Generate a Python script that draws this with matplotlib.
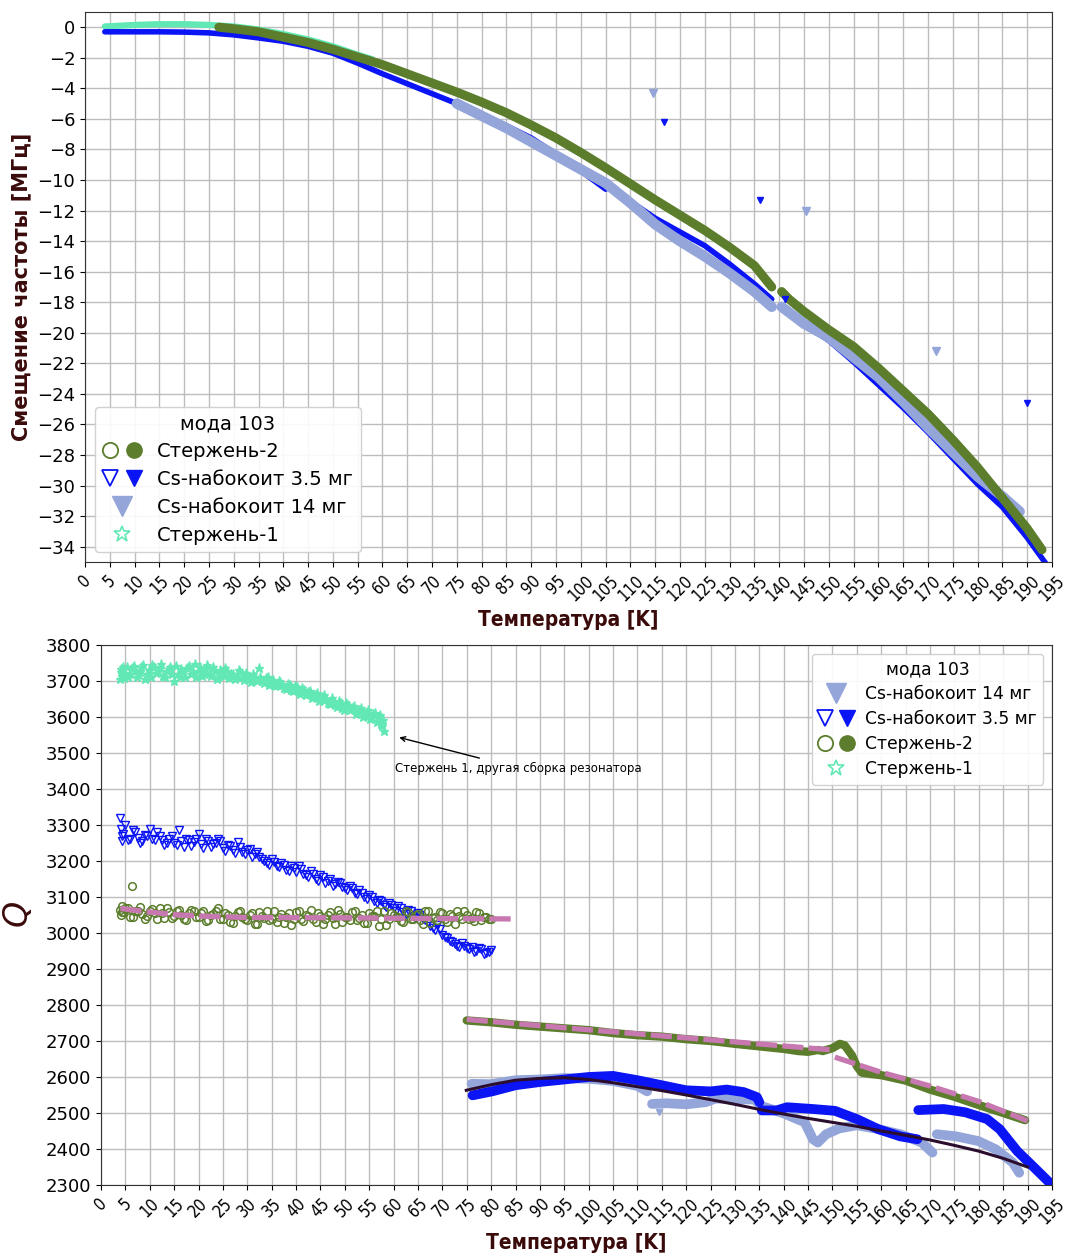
import numpy as np
import matplotlib
matplotlib.use("Agg")
import matplotlib.pyplot as plt
from matplotlib.lines import Line2D
from matplotlib.legend_handler import HandlerTuple

# ---- цвета серий ----
C_ROD2 = '#5b7d2c'
C_CS35 = '#0a14f5'
C_CS14 = '#94a5da'
C_ROD1 = '#62e8b4'
C_FIT_PINK = '#c878b0'
C_FIT_DARK = '#2b0d2e'
C_LABEL = '#3b0b0b'

# ---- верхний график: смещение частоты, МГц ----
rod1_df_t = [4, 10, 15, 20, 25, 30, 35, 40, 45, 50, 55, 58]
rod1_df = [0.05, 0.15, 0.2, 0.2, 0.15, 0.05, -0.15, -0.45, -0.8, -1.25, -1.8, -2.1]

rod2_df_t_a = [27, 30, 35, 40, 45, 50, 55, 60, 65, 70, 75, 80, 85, 90, 95,
               100, 105, 110, 115, 120, 125, 130, 135, 138.5]
rod2_df_a = [0.0, -0.1, -0.3, -0.65, -1.0, -1.45, -1.95, -2.45, -3.05, -3.65,
             -4.25, -4.9, -5.6, -6.4, -7.25, -8.2, -9.2, -10.25, -11.3, -12.3,
             -13.3, -14.4, -15.6, -17.0]
rod2_df_t_b = [140.5, 142, 145, 150, 155, 160, 165, 170, 175, 180, 185, 190, 193]
rod2_df_b = [-17.3, -17.8, -18.6, -19.8, -20.9, -22.3, -23.8, -25.3, -27.0,
             -28.8, -30.8, -32.8, -34.2]

cs35_df_t_a = [4, 10, 15, 20, 25, 30, 35, 40, 45, 50, 55, 60, 65, 70, 75, 80,
               85, 90, 95, 100, 105, 106, 110, 115, 120, 125, 130, 135, 138.5]
cs35_df_a = [-0.3, -0.3, -0.3, -0.32, -0.37, -0.5, -0.7, -0.92, -1.25, -1.7,
             -2.35, -3.05, -3.7, -4.35, -5.0, -5.7, -6.45, -7.25, -8.3, -9.4,
             -10.6, -10.3, -11.4, -12.5, -13.4, -14.3, -15.5, -16.8, -17.8]
cs35_df_t_b = [141, 145, 150, 155, 160, 165, 170, 175, 180, 185, 190, 194]
cs35_df_b = [-18.4, -19.4, -20.5, -21.9, -23.4, -24.9, -26.5, -28.2, -29.9,
             -31.4, -33.4, -35.2]
cs35_df_out_t = [116.7, 136.1, 141.1, 189.9]
cs35_df_out = [-6.2, -11.3, -17.8, -24.6]

cs14_df_t_a = [75, 80, 85, 90, 95, 100, 105, 110, 115, 120, 125, 130, 135, 138.5]
cs14_df_a = [-5.0, -5.8, -6.6, -7.5, -8.4, -9.3, -10.2, -11.5, -12.9, -14.0,
             -15.0, -16.1, -17.3, -18.3]
cs14_df_t_b = [140.5, 145, 150, 155, 160, 165, 170, 175, 180, 185, 188.5]
cs14_df_b = [-18.3, -19.4, -20.3, -21.6, -22.9, -24.5, -26.2, -27.8, -29.4,
             -30.7, -31.7]
cs14_df_out_t = [114.6, 145.5, 171.7]
cs14_df_out = [-4.3, -12.05, -21.2]

# ---- нижний график: добротность Q ----
rod1_q_t = [3.8, 4.0, 4.2, 4.5, 5.0, 5.6, 6.3, 7.0, 7.6, 8.3,
            9.0, 9.8, 10.5, 11.2, 12.0, 12.7, 13.5, 14.2, 15.0, 15.8,
            16.5, 17.3, 18.0, 18.8, 19.5, 20.3, 21.0, 21.8, 22.5, 23.3,
            24.0, 24.8, 25.5, 26.3, 27.0, 27.8, 28.5, 29.3, 30.0, 30.8,
            31.5, 32.3, 33.0, 33.8, 34.5, 35.3, 36.0, 36.8, 37.5, 38.3,
            39.0, 39.8, 40.5, 41.3, 42.0, 42.8, 43.5, 44.3, 45.0, 45.8,
            46.5, 47.3, 48.0, 48.8, 49.5, 50.3, 51.0, 51.8, 52.5, 53.3,
            54.0, 54.8, 55.5, 56.2, 56.8, 57.3, 57.7, 58.0]
rod1_q = [3705, 3732, 3715, 3740, 3722, 3712, 3735, 3728, 3718, 3738,
          3705, 3730, 3745, 3722, 3735, 3715, 3728, 3740, 3700, 3720,
          3732, 3712, 3742, 3725, 3710, 3738, 3722, 3745, 3715, 3728,
          3710, 3722, 3735, 3708, 3720, 3712, 3725, 3702, 3715, 3698,
          3712, 3735, 3700, 3708, 3690, 3702, 3688, 3698, 3680, 3692,
          3675, 3686, 3668, 3680, 3660, 3672, 3655, 3666, 3648, 3660,
          3640, 3652, 3632, 3645, 3625, 3638, 3618, 3630, 3612, 3625,
          3605, 3618, 3598, 3612, 3590, 3605, 3575, 3562]
rod1_q_t2 = [4.1, 4.8, 5.3, 6.0, 6.7, 7.3, 8.0, 8.7, 9.4, 10.2,
             10.9, 11.6, 12.4, 13.1, 13.9, 14.6, 15.4, 16.2, 16.9, 17.7,
             18.4, 19.2, 19.9, 20.7, 21.4, 22.2, 22.9, 23.7, 24.4, 25.2,
             25.9, 26.7, 27.4, 28.2, 28.9, 29.7, 30.4, 31.2, 31.9, 32.7,
             33.4, 34.2, 34.9, 35.7, 36.4, 37.2, 37.9, 38.7, 39.4, 40.2,
             40.9, 41.7, 42.4, 43.2, 43.9, 44.7, 45.4, 46.2, 46.9, 47.7,
             48.4, 49.2, 49.9, 50.7, 51.4, 52.2, 52.9, 53.7, 54.4, 55.1,
             55.8, 56.5, 57.0, 57.5, 57.9]
rod1_q2 = [3725, 3708, 3738, 3720, 3742, 3710, 3726, 3745, 3718, 3712,
           3738, 3728, 3748, 3710, 3733, 3718, 3742, 3712, 3725, 3735,
           3718, 3748, 3728, 3715, 3732, 3720, 3740, 3705, 3730, 3715,
           3728, 3718, 3705, 3730, 3712, 3722, 3705, 3718, 3700, 3712,
           3695, 3710, 3698, 3685, 3700, 3690, 3678, 3688, 3672, 3682,
           3664, 3676, 3668, 3652, 3662, 3645, 3656, 3650, 3635, 3642,
           3628, 3640, 3620, 3632, 3625, 3608, 3620, 3600, 3612, 3595,
           3608, 3585, 3598, 3580, 3592]

low_t = [3.8, 4.0, 4.2, 4.4, 5, 6, 7, 8, 9, 10,
         11, 12, 13, 14, 15, 16, 17, 18, 19, 20,
         21, 22, 23, 24, 25, 26, 27, 28, 29, 30,
         31, 32, 33, 34, 35, 36, 37, 38, 39, 40,
         41, 42, 43, 44, 45, 46, 47, 48, 49, 50,
         51, 52, 53, 54, 55, 56, 57, 58, 59, 60,
         61, 62, 63, 64, 65, 66, 67, 68, 69, 70,
         71, 72, 73, 74, 75, 76, 77, 78, 79, 80]
low_t2 = [4.6, 5.5, 6.5, 7.5, 8.5, 9.5, 10.5, 11.5, 12.5, 13.5,
          14.5, 15.5, 16.5, 17.5, 18.5, 19.5, 20.5, 21.5, 22.5, 23.5,
          24.5, 25.5, 26.5, 27.5, 28.5, 29.5, 30.5, 31.5, 32.5, 33.5,
          34.5, 35.5, 36.5, 37.5, 38.5, 39.5, 40.5, 41.5, 42.5, 43.5,
          44.5, 45.5, 46.5, 47.5, 48.5, 49.5, 50.5, 51.5, 52.5, 53.5,
          54.5, 55.5, 56.5, 57.5, 58.5, 59.5, 60.5, 61.5, 62.5, 63.5,
          64.5, 65.5, 66.5, 67.5, 68.5, 69.5, 70.5, 71.5, 72.5, 73.5,
          74.5, 75.5, 76.5, 77.5, 78.5, 79.5]
cs35_q_low = [3320, 3290, 3270, 3255, 3300, 3262, 3280, 3250, 3272, 3290,
              3258, 3268, 3245, 3262, 3250, 3285, 3240, 3258, 3252, 3275,
              3235, 3255, 3248, 3262, 3235, 3245, 3230, 3252, 3225, 3230,
              3212, 3225, 3205, 3195, 3205, 3185, 3195, 3175, 3185, 3168,
              3178, 3160, 3172, 3150, 3162, 3140, 3150, 3135, 3140, 3125,
              3130, 3112, 3118, 3100, 3105, 3088, 3092, 3078, 3082, 3068,
              3075, 3058, 3065, 3048, 3055, 3040, 3030, 3015, 3022, 2995,
              2985, 2975, 2965, 2972, 2958, 2962, 2950, 2955, 2945, 2952]
cs35_q_low2 = [3275, 3258, 3285, 3265, 3255, 3270, 3262, 3280, 3258, 3250,
               3268, 3245, 3255, 3262, 3242, 3260, 3248, 3262, 3240, 3250,
               3255, 3228, 3242, 3222, 3240, 3218, 3232, 3218, 3212, 3200,
               3190, 3198, 3182, 3190, 3172, 3180, 3185, 3165, 3155, 3165,
               3145, 3155, 3145, 3130, 3142, 3128, 3118, 3125, 3108, 3112,
               3095, 3100, 3082, 3090, 3072, 3078, 3062, 3068, 3052, 3060,
               3042, 3050, 3035, 3020, 3008, 3012, 2990, 2978, 2970, 2960,
               2965, 2955, 2948, 2958, 2942, 2948]
rod2_q_low = [3065, 3050, 3075, 3058, 3068, 3045, 3060, 3072, 3040, 3062,
              3055, 3070, 3042, 3058, 3048, 3065, 3038, 3055, 3060, 3045,
              3062, 3035, 3052, 3068, 3040, 3050, 3028, 3058, 3045, 3035,
              3055, 3025, 3048, 3062, 3040, 3030, 3052, 3045, 3022, 3058,
              3038, 3050, 3065, 3030, 3048, 3040, 3058, 3025, 3052, 3045,
              3035, 3060, 3042, 3028, 3055, 3048, 3020, 3062, 3038, 3050,
              3045, 3030, 3058, 3040, 3052, 3025, 3060, 3042, 3035, 3055,
              3030, 3048, 3062, 3038, 3050, 3042, 3058, 3035, 3045, 3040]
rod2_q_low2 = [3058, 3070, 3045, 3062, 3052, 3048, 3066, 3040, 3055, 3068,
               3042, 3060, 3050, 3035, 3065, 3045, 3055, 3032, 3050, 3062,
               3040, 3055, 3030, 3048, 3062, 3038, 3050, 3025, 3058, 3042,
               3035, 3060, 3045, 3028, 3055, 3040, 3062, 3032, 3048, 3038,
               3055, 3025, 3050, 3042, 3065, 3030, 3045, 3058, 3035, 3050,
               3028, 3048, 3062, 3040, 3022, 3055, 3045, 3032, 3060, 3040,
               3050, 3035, 3062, 3028, 3045, 3058, 3038, 3052, 3025, 3048,
               3060, 3040, 3032, 3055, 3045, 3038]
rod2_q_out_t = [6.4]
rod2_q_out = [3131]

rod2_q_t = [75, 80, 85, 90, 95, 100, 105, 110, 115, 120, 125, 130, 135, 140,
            143, 145, 147, 148, 150, 151.5, 152.5, 154, 155, 156, 158, 160,
            165, 170, 175, 180, 185, 189.5]
rod2_q = [2757, 2752, 2745, 2740, 2735, 2730, 2722, 2716, 2712, 2705, 2700,
          2692, 2685, 2678, 2672, 2670, 2675, 2672, 2680, 2692, 2688, 2660,
          2630, 2612, 2608, 2605, 2590, 2565, 2545, 2522, 2500, 2480]

cs35_q_t_a = [76.2, 80.2, 85, 90, 95, 100, 105, 110, 115, 120, 125, 128.3,
              131.8, 134.5, 135]
cs35_q_a = [2549, 2560, 2577, 2586, 2593, 2600, 2603, 2591, 2577, 2563, 2560,
            2565, 2558, 2544, 2530]
cs35_q_t_b = [135.5, 138.5, 140.7, 146, 150.5, 155, 159.4, 163.9, 167.4]
cs35_q_b = [2507, 2507, 2516, 2511, 2506, 2483, 2455, 2435, 2427]
cs35_q_t_c = [167.6, 172.8, 177.2, 181.7, 184.3, 187.9, 191.4, 195]
cs35_q_c = [2508, 2511, 2502, 2483, 2455, 2394, 2348, 2300]

cs14_q_t_a = [76, 80, 85, 90, 95, 100, 105, 110, 112]
cs14_q_a = [2581, 2580, 2591, 2593, 2597, 2595, 2589, 2575, 2560]
cs14_q_t_b = [113, 116, 120, 124, 126, 130, 134, 135.4, 140.3, 144.3, 146, 147,
              148.7, 151.4, 155, 159.4, 163.9, 168.3, 170.5]
cs14_q_b = [2525, 2527, 2524, 2530, 2540, 2539, 2537, 2520, 2497, 2474, 2427,
            2418, 2441, 2457, 2466, 2455, 2441, 2418, 2390]
cs14_q_t_c = [171.4, 175.4, 179.9, 183.5, 187, 188.3]
cs14_q_c = [2441, 2435, 2422, 2399, 2362, 2334]
cs14_q_out_t = [114.5]
cs14_q_out = [2502]

fit_rod2_t_a = [4, 10, 15, 20, 30, 50, 70, 84.5]
fit_rod2_a = [3068, 3058, 3051, 3047, 3043, 3042, 3040, 3039]
fit_rod2_t_b = [75, 100, 125, 150]
fit_rod2_b = [2760, 2731, 2703, 2675]
fit_rod2_t_c = [150.5, 160, 170, 180, 190]
fit_rod2_c = [2655, 2613, 2575, 2532, 2478]

fit_cs14_t = [74.9, 80.2, 85, 90, 95, 100, 105, 110, 115, 120, 125, 130, 135,
              140, 145, 150, 155, 160, 165, 170, 175, 180, 185, 190]
fit_cs14 = [2563, 2579, 2591, 2596, 2598, 2593, 2584, 2573, 2562, 2550, 2537,
            2524, 2510, 2497, 2485, 2474, 2463, 2450, 2438, 2425, 2410, 2394,
            2374, 2350]

x_ticks = list(range(0, 196, 5))


def style_axes(ax):
    ax.set_xlim(0, 195)
    ax.set_xticks(x_ticks)
    ax.set_xticklabels([str(t) for t in x_ticks], rotation=45,
                       fontsize=12, fontstretch='condensed')
    ax.tick_params(axis='y', labelsize=13)
    ax.grid(True, color='#bdbdbd', linewidth=1.0)
    ax.set_axisbelow(True)
    for sp in ax.spines.values():
        sp.set_color('#333333')


def pair(mk, color, ms):
    hollow = Line2D([], [], ls='none', marker=mk, mfc='white', mec=color,
                    ms=ms, mew=1.3)
    full = Line2D([], [], ls='none', marker=mk, mfc=color, mec=color, ms=ms)
    return (hollow, full)


fig = plt.figure(figsize=(10.69, 12.57), dpi=100)
ax1 = fig.add_axes([0.0795, 0.5529, 0.9045, 0.4376])
ax2 = fig.add_axes([0.0945, 0.0573, 0.8895, 0.4296])

# ---------- верхняя панель ----------
band = dict(solid_capstyle='round', solid_joinstyle='round')
ax1.plot(rod1_df_t, rod1_df, color=C_ROD1, lw=4.5, zorder=2, **band)
ax1.plot(cs35_df_t_a, cs35_df_a, color=C_CS35, lw=4.0, zorder=3, **band)
ax1.plot(cs35_df_t_b, cs35_df_b, color=C_CS35, lw=4.0, zorder=3, **band)
ax1.plot(cs14_df_t_a, cs14_df_a, color=C_CS14, lw=7.5, zorder=4, **band)
ax1.plot(cs14_df_t_b, cs14_df_b, color=C_CS14, lw=7.5, zorder=4, **band)
ax1.plot(rod2_df_t_a, rod2_df_a, color=C_ROD2, lw=6.5, zorder=5, **band)
ax1.plot(rod2_df_t_b, rod2_df_b, color=C_ROD2, lw=6.5, zorder=5, **band)
ax1.plot(cs35_df_out_t, cs35_df_out, ls='none', marker='v', color=C_CS35,
         ms=5, zorder=6)
ax1.plot(cs14_df_out_t, cs14_df_out, ls='none', marker='v', color=C_CS14,
         ms=6, zorder=6)

style_axes(ax1)
ax1.set_ylim(-35, 1)
ax1.set_yticks(list(range(0, -35, -2)))
ax1.set_xlabel('Температура [K]', fontsize=15, fontweight='bold',
               color=C_LABEL, fontstretch='condensed')
ax1.set_ylabel('Смещение частоты [МГц]', fontsize=15, fontweight='bold',
               color=C_LABEL)

h_rod2 = pair('o', C_ROD2, 11)
h_cs35 = pair('v', C_CS35, 11)
h_cs14 = Line2D([], [], ls='none', marker='v', color=C_CS14, ms=14)
h_rod1 = Line2D([], [], ls='none', marker='*', mfc='white', mec=C_ROD1,
                ms=12, mew=1.2)
tuple_map = {tuple: HandlerTuple(ndivide=None, pad=0.5)}

ax1.legend([h_rod2, h_cs35, h_cs14, h_rod1],
           ['Стержень-2', 'Cs-набокоит 3.5 мг', 'Cs-набокоит 14 мг',
            'Стержень-1'],
           handler_map=tuple_map, title='мода 103', loc='lower left',
           fontsize=14, title_fontsize=14, handlelength=2.0,
           handletextpad=0.8, labelspacing=0.45, framealpha=0.9)

# ---------- нижняя панель ----------
ax2.plot(cs14_q_t_a, cs14_q_a, color=C_CS14, lw=7, zorder=2, **band)
ax2.plot(cs14_q_t_b, cs14_q_b, color=C_CS14, lw=7, zorder=2, **band)
ax2.plot(cs14_q_t_c, cs14_q_c, color=C_CS14, lw=7, zorder=2, **band)
ax2.plot(cs14_q_out_t, cs14_q_out, ls='none', marker='v', color=C_CS14, ms=5,
         zorder=2)
ax2.plot(cs35_q_t_a, cs35_q_a, color=C_CS35, lw=7, zorder=3, **band)
ax2.plot(cs35_q_t_b, cs35_q_b, color=C_CS35, lw=7, zorder=3, **band)
ax2.plot(cs35_q_t_c, cs35_q_c, color=C_CS35, lw=7, zorder=3, **band)
ax2.plot(rod2_q_t, rod2_q, color=C_ROD2, lw=6, zorder=4, **band)

ax2.plot(rod1_q_t + rod1_q_t2, rod1_q + rod1_q2, ls='none', marker='*',
         color=C_ROD1, ms=6.5, zorder=3)
ax2.plot(low_t + low_t2, cs35_q_low + cs35_q_low2, ls='none', marker='v',
         mfc='none', mec=C_CS35, ms=5.5, mew=1.0, zorder=3)
ax2.plot(low_t + low_t2 + rod2_q_out_t, rod2_q_low + rod2_q_low2 + rod2_q_out,
         ls='none', marker='o', mfc='none', mec=C_ROD2, ms=5.5, mew=1.1,
         zorder=4)

dash = (0, (4, 1))
ax2.plot(fit_rod2_t_a, fit_rod2_a, color=C_FIT_PINK, lw=3.8, ls=dash, zorder=5)
ax2.plot(fit_rod2_t_b, fit_rod2_b, color=C_FIT_PINK, lw=3.8, ls=dash, zorder=5)
ax2.plot(fit_rod2_t_c, fit_rod2_c, color=C_FIT_PINK, lw=3.8, ls=dash, zorder=5)
ax2.plot(fit_cs14_t, fit_cs14, color=C_FIT_DARK, lw=2.2, zorder=6)

ax2.annotate('Стержень 1, другая сборка резонатора', xy=(60.6, 3545),
             xytext=(60.3, 3458), fontsize=8.5, ha='left', va='center',
             arrowprops=dict(arrowstyle='->', color='black', lw=1.0))

style_axes(ax2)
ax2.set_ylim(2300, 3800)
ax2.set_yticks(list(range(2300, 3801, 100)))
ax2.set_xlabel('Температура [K]', fontsize=15, fontweight='bold',
               color=C_LABEL, fontstretch='condensed')
ax2.set_ylabel('$Q$', fontsize=24, color=C_LABEL, labelpad=8)

ax2.legend([h_cs14, h_cs35, h_rod2, h_rod1],
           ['Cs-набокоит 14 мг', 'Cs-набокоит 3.5 мг', 'Стержень-2',
            'Стержень-1'],
           handler_map=tuple_map, title='мода 103', loc='upper right',
           fontsize=12.3, title_fontsize=12.3, handlelength=2.0,
           handletextpad=0.7, labelspacing=0.4, framealpha=0.9)

fig.savefig('out.png', dpi=100)
